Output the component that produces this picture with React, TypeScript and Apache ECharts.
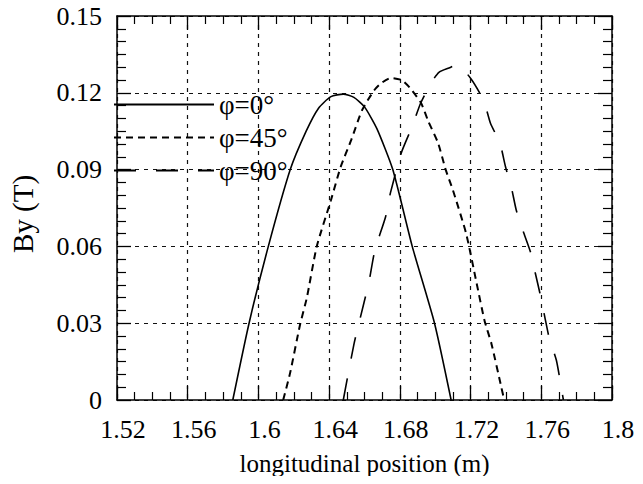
import React, { useEffect, useRef } from "react";
import * as echarts from "echarts";

const seriesNames = ["φ=0°", "φ=45°", "φ=90°"];

const phi0X = [1.5855, 1.5947, 1.6056, 1.618, 1.627, 1.634, 1.641, 1.648, 1.654, 1.66, 1.667, 1.676, 1.687, 1.6996, 1.709];
const phi0Y = [0, 0.03, 0.06, 0.09, 0.105, 0.114, 0.1185, 0.1195, 0.1182, 0.1145, 0.106, 0.09, 0.06, 0.03, 0];

const phi45X = [1.614, 1.6179, 1.6235, 1.6274, 1.633, 1.641, 1.6465, 1.6525, 1.6587, 1.6655, 1.6695, 1.675, 1.681, 1.6856, 1.692, 1.696, 1.7016, 1.706, 1.71, 1.7175, 1.7234, 1.7279, 1.7318, 1.7374, 1.739];
const phi45Y = [0, 0.0105, 0.0293, 0.04, 0.06, 0.078, 0.091, 0.1016, 0.1133, 0.121, 0.1238, 0.1258, 0.125, 0.122, 0.116, 0.109, 0.1004, 0.0898, 0.082, 0.065, 0.0457, 0.031, 0.022, 0.005, 0];

const phi90X = [1.648, 1.6541, 1.6597, 1.6625, 1.6659, 1.6719, 1.6747, 1.6808, 1.6868, 1.6918, 1.6976, 1.7021, 1.7078, 1.7125, 1.7203, 1.7274, 1.7313, 1.7366, 1.7398, 1.7431, 1.7459, 1.7497, 1.7538, 1.7566, 1.7592, 1.762, 1.7645, 1.7685, 1.7713, 1.7725];
const phi90Y = [0, 0.022, 0.038, 0.046, 0.0586, 0.0715, 0.081, 0.0965, 0.1066, 0.116, 0.1238, 0.128, 0.1297, 0.131, 0.1254, 0.117, 0.108, 0.1004, 0.091, 0.083, 0.074, 0.066, 0.058, 0.0496, 0.0418, 0.0324, 0.0242, 0.0156, 0.005, 0];

const xMin = 1.52;
const xMax = 1.8;
const xInterval = 0.04;
const yMin = 0;
const yMax = 0.15;
const yInterval = 0.03;

const FONT = "'Liberation Serif', 'Times New Roman', serif";

function zip(xs: number[], ys: number[]) {
  return xs.map((x, i) => [x, ys[i]]);
}

export default function App() {
  const ref = useRef<HTMLDivElement>(null);
  useEffect(() => {
    if (!ref.current) return;
    const chart = echarts.init(ref.current, undefined, { renderer: "svg" });
    const axisLine = { show: true, onZero: false, lineStyle: { color: "#000", width: 1.5 } };
    const tick = { show: true, inside: true, length: 14, lineStyle: { color: "#000", width: 1.3 } };
    const grid = { show: true, lineStyle: { color: "#111", width: 1.2, type: [4, 5] as any } };
    chart.setOption({
      animation: false,
      backgroundColor: "#fff",
      grid: { left: 115, right: 31, top: 16, bottom: 84 },
      legend: {
        orient: "vertical",
        left: 113,
        top: 91,
        padding: 0,
        itemGap: 6,
        itemWidth: 100,
        itemHeight: 14,
        data: seriesNames,
        itemStyle: { opacity: 0 },
        textStyle: { fontFamily: FONT, fontSize: 27, color: "#000" },
      },
      xAxis: [
        {
          type: "value",
          min: xMin,
          max: xMax,
          interval: xInterval,
          position: "bottom",
          name: "longitudinal position (m)",
          nameLocation: "middle",
          nameGap: 51,
          nameTextStyle: { fontFamily: FONT, fontSize: 25, color: "#000" },
          axisLine,
          axisTick: tick,
          minorTick: { show: true, splitNumber: 4, length: 8, lineStyle: { color: "#000", width: 1.2 } },
          splitLine: grid,
          axisLabel: { fontFamily: FONT, fontSize: 26, color: "#000", margin: 16, padding: [0, 0, 0, 12] },
        },
        {
          type: "value",
          min: xMin,
          max: xMax,
          interval: xInterval,
          position: "top",
          axisLine,
          axisTick: tick,
          minorTick: { show: true, splitNumber: 4, length: 8, lineStyle: { color: "#000", width: 1.2 } },
          splitLine: { show: false },
          axisLabel: { show: false },
        },
      ],
      yAxis: [
        {
          type: "value",
          min: yMin,
          max: yMax,
          interval: yInterval,
          position: "left",
          name: "By (T)",
          nameLocation: "middle",
          nameGap: 80,
          nameTextStyle: { fontFamily: FONT, fontSize: 29, color: "#000", padding: [0, 12, 0, 0] },
          axisLine,
          axisTick: tick,
          minorTick: { show: true, splitNumber: 6, length: 9, lineStyle: { color: "#000", width: 1.2 } },
          splitLine: grid,
          axisLabel: { fontFamily: FONT, fontSize: 26, color: "#000", margin: 15 },
        },
        {
          type: "value",
          min: yMin,
          max: yMax,
          interval: yInterval,
          position: "right",
          axisLine,
          axisTick: tick,
          minorTick: { show: true, splitNumber: 6, length: 9, lineStyle: { color: "#000", width: 1.2 } },
          splitLine: { show: false },
          axisLabel: { show: false },
        },
      ],
      series: [
        {
          name: seriesNames[0],
          type: "line",
          data: zip(phi0X, phi0Y),
          smooth: 0.2,
          showSymbol: false,
          symbol: "none",
          color: "#000",
          lineStyle: { color: "#000", width: 1.6, type: "solid" },
        },
        {
          name: seriesNames[1],
          type: "line",
          data: zip(phi45X, phi45Y),
          smooth: 0.2,
          showSymbol: false,
          symbol: "none",
          color: "#000",
          lineStyle: { color: "#000", width: 2, type: [7, 5] },
        },
        {
          name: seriesNames[2],
          type: "line",
          data: zip(phi90X, phi90Y),
          smooth: 0.2,
          showSymbol: false,
          symbol: "none",
          color: "#000",
          lineStyle: { color: "#000", width: 1.6, type: [22, 20] },
        },
      ],
    });
    return () => chart.dispose();
  }, []);
  return <div ref={ref} style={{ width: 643, height: 484, margin: -8 }} />;
}
